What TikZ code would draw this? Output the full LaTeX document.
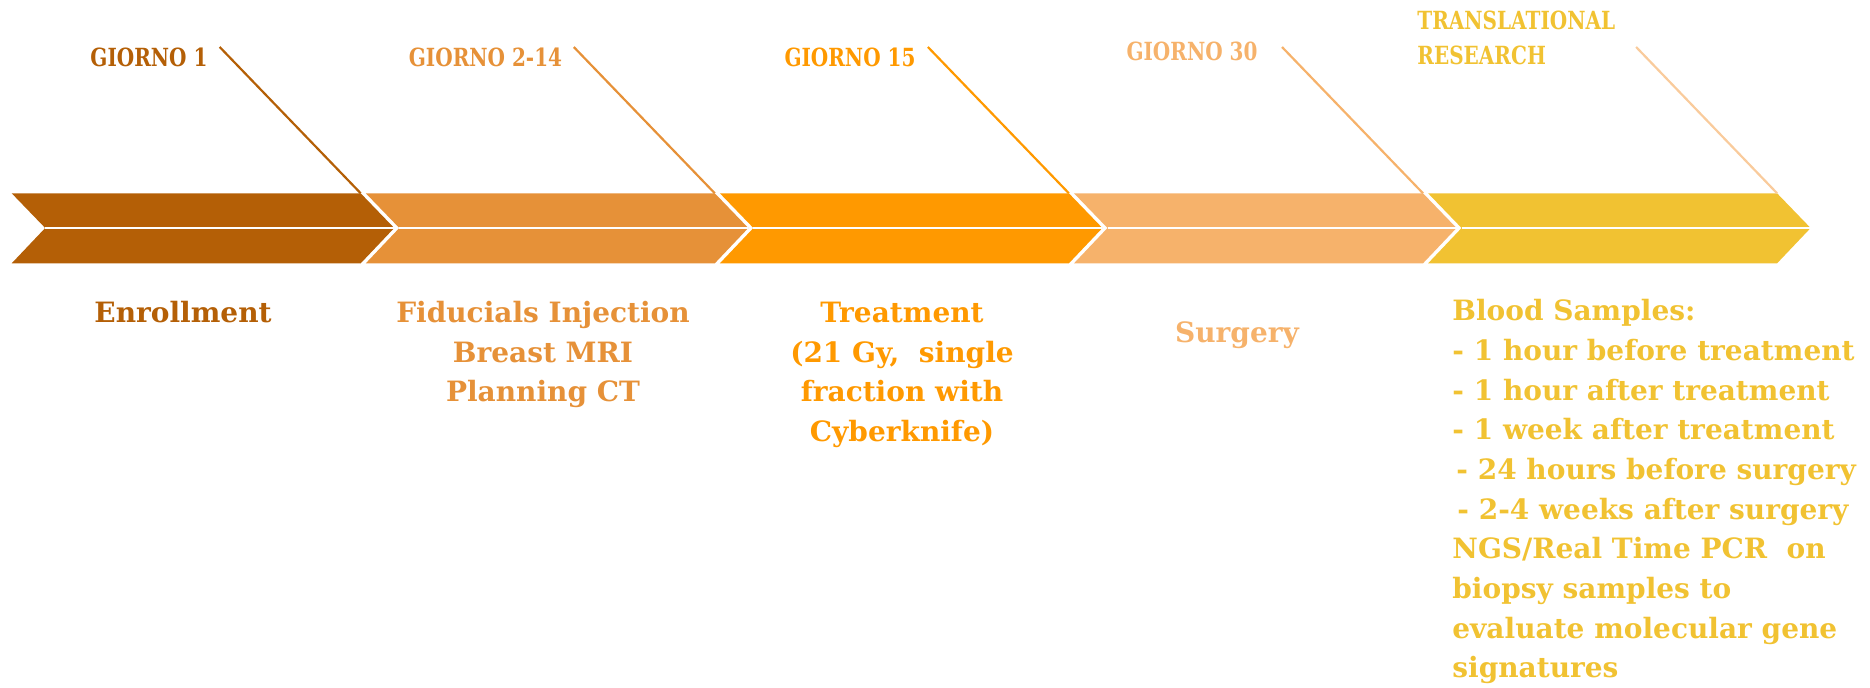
\documentclass[tikz,border=0pt]{standalone}
\usepackage{fontspec}
\newfontfamily\bodyfont{DejaVu Serif}
\newfontfamily\capfont[FakeStretch=0.8]{DejaVu Serif}
\definecolor{c1}{HTML}{B45F06}
\definecolor{c2}{HTML}{E69138}
\definecolor{c3}{HTML}{FF9900}
\definecolor{c4}{HTML}{F6B26B}
\definecolor{c5}{HTML}{F1C232}
\definecolor{l5}{HTML}{F9CB9C}
\begin{document}
\begin{tikzpicture}[x=0.5pt,y=-0.5pt,
  toplab/.style={font=\capfont\bfseries\fontsize{12.5}{17.5}\selectfont, inner sep=0pt},
  bodylab/.style={font=\bodyfont\bfseries\fontsize{14}{19.85}\selectfont, inner sep=0pt},
  midline/.style={white, line width=1.4pt},
  leader/.style={line width=1.1pt}]
\useasboundingbox (0,0) rectangle (1870,687);
% chevrons
\foreach \i/\col/\lc in {0/c1/c1,1/c2/c2,2/c3/c3,3/c4/c4,4/c5/l5} {
  \pgfmathsetmacro\L{11.7+354.1*\i}
  \pgfmathsetmacro\R{\L+349}
  \coordinate (tl\i) at (\L,193.3);
  \coordinate (tr\i) at (\R,193.3);
  \coordinate (tip\i) at (\R+33.5,228);
  \coordinate (br\i) at (\R,263.3);
  \coordinate (bl\i) at (\L,263.3);
  \coordinate (notch\i) at (\L+33.5,228);
  \coordinate (lt\i) at (\R-141,47);
  \fill[\col] (tl\i) -- (tr\i) -- (tip\i) -- (br\i) -- (bl\i) -- (notch\i) -- cycle;
  \draw[midline] (notch\i) -- (tip\i);
  \draw[leader, \lc] (lt\i) -- (tr\i);
}
% top labels
\node[toplab, text=c1, anchor=base] (g1) at (149,66) {GIORNO 1};
\node[toplab, text=c2, anchor=base] (g2) at (485.5,66) {GIORNO 2-14};
\node[toplab, text=c3, anchor=base] (g3) at (850,66) {GIORNO 15};
\node[toplab, text=c4, anchor=base] (g4) at (1192,60) {GIORNO 30};
\node[toplab, text=c5, anchor=north west, align=left] (g5) at (1417,11) {TRANSLATIONAL\\RESEARCH};
% bottom labels
\node[bodylab, text=c1, anchor=base] (e1) at (183,322) {Enrollment};
\node[bodylab, text=c2, anchor=north, align=center] (e2) at (543,300.7) {Fiducials Injection\\Breast MRI\\Planning CT};
\node[bodylab, text=c3, anchor=north, align=center] (e3) at (902,301.6) {Treatment\\(21 Gy,\ \ single\\fraction with\\Cyberknife)};
\node[bodylab, text=c4, anchor=base] (e4) at (1237,342) {Surgery};
\node[bodylab, text=c5, anchor=north west, align=left] (e5) at (1452,299) {Blood Samples:\\- 1 hour before treatment\\- 1 hour after treatment\\- 1 week after treatment\\\hspace*{2pt}- 24 hours before surgery\\\hspace*{2.5pt}- 2-4 weeks after surgery\\NGS/Real Time PCR\ \ on\\biopsy samples to\\evaluate molecular gene\\signatures};
\end{tikzpicture}
\end{document}
